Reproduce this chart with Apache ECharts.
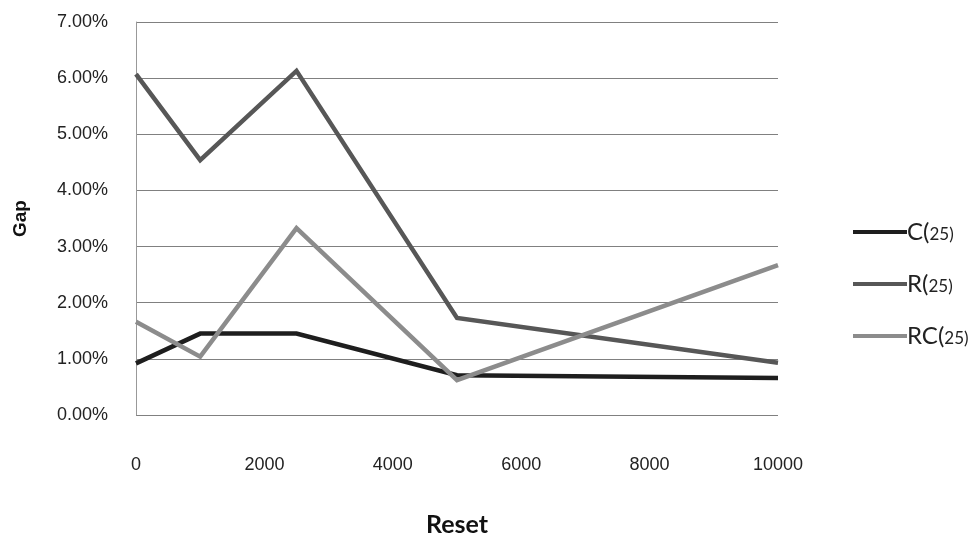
<!DOCTYPE html>
<html><head><meta charset="utf-8">
<script src="https://cdn.jsdelivr.net/npm/echarts@6/dist/echarts.min.js"></script>
<style>html,body{margin:0;padding:0;background:#fff}#c{width:978px;height:537px}</style>
</head><body><div id="c"></div>
<script>
const resets = [0, 1000, 2500, 5000, 10000];
const seriesNames = ['C(25)', 'R(25)', 'RC(25)'];
const cValues = [0.92, 1.45, 1.45, 0.71, 0.66];
const rValues = [6.07, 4.54, 6.13, 1.73, 0.93];
const rcValues = [1.66, 1.04, 3.33, 0.62, 2.67];
const colors = ['#1e1e1e', '#575757', '#8c8c8c'];

const chart = echarts.init(document.getElementById('c'));
const mk = (name, vals, i) => ({
  name, type: 'line', data: resets.map((x, k) => [x, vals[k]]),
  symbol: 'none', lineStyle: { width: 4.5, color: colors[i], join: 'miter' },
  itemStyle: { color: colors[i] }, animation: false
});
chart.setOption({
  animation: false,
  grid: { left: 136, top: 22, right: 200, bottom: 122, containLabel: false, outerBoundsMode: 'none' },
  xAxis: {
    type: 'value', min: 0, max: 10000, interval: 2000,
    name: 'Reset', nameLocation: 'middle', nameGap: 97,
    nameTextStyle: { fontFamily: 'Lato', fontWeight: 'bold', fontSize: 25, color: '#111' },
    axisLine: { show: false }, axisTick: { show: false }, splitLine: { show: false },
    axisLabel: { margin: 41, fontFamily: 'Liberation Sans', fontSize: 18, color: '#222',
      formatter: v => String(v) }
  },
  yAxis: {
    type: 'value', min: 0, max: 7, interval: 1,
    name: 'Gap', nameLocation: 'middle', nameGap: 106,
    nameTextStyle: { fontFamily: 'Liberation Sans', fontWeight: 'bold', fontSize: 19, color: '#111' },
    axisLine: { show: true, lineStyle: { color: '#999', width: 1 } }, axisTick: { show: false },
    splitLine: { lineStyle: { color: '#808080', width: 1 } },
    axisLabel: { margin: 28, fontFamily: 'Liberation Sans', fontSize: 18, color: '#222',
      formatter: v => v.toFixed(2) + '%' }
  },
  legend: {
    orient: 'vertical', left: 853, top: 220, itemGap: 28, padding: 0,
    icon: 'rect', itemWidth: 54, itemHeight: 4,
    data: seriesNames,
    formatter: n => { const m = n.match(/^(\w+)\((\d+)\)$/); return '{a|' + m[1] + '(}{b|' + m[2] + ')}'; },
    textStyle: { padding: [0, 0, 0, -5],
      rich: { a: { fontFamily: 'Lato', fontSize: 24, lineHeight: 24, verticalAlign: 'bottom', color: '#222' },
              b: { fontFamily: 'Lato', fontSize: 17, lineHeight: 24, verticalAlign: 'bottom', padding: [0, 0, 1, 0], color: '#222' } } }
  },
  series: [mk(seriesNames[0], cValues, 0), mk(seriesNames[1], rValues, 1), mk(seriesNames[2], rcValues, 2)]
});
</script></body></html>
